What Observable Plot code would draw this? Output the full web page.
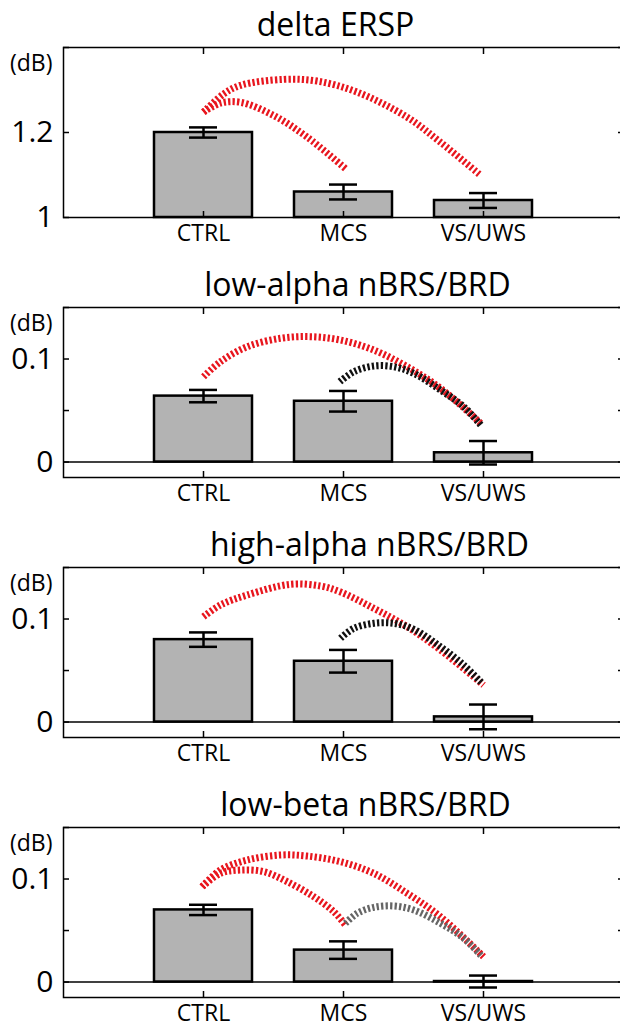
<!DOCTYPE html>
<html><head><meta charset="utf-8">
<script src="https://cdn.jsdelivr.net/npm/d3@7"></script>
<script src="https://cdn.jsdelivr.net/npm/@observablehq/plot@0.6"></script>
<style>
html,body{margin:0;padding:0;overflow:hidden;background:#fff;}
#chart svg{display:block;overflow:visible;}
</style></head><body><div id="chart"></div>
<script>
// ---------- data ----------
const titles = ["delta ERSP", "low-alpha nBRS/BRD", "high-alpha nBRS/BRD", "low-beta nBRS/BRD"];
const groups = ["CTRL", "MCS", "VS/UWS"];
const means = [
  [1.200, 1.060, 1.040],
  [0.064, 0.059, 0.009],
  [0.080, 0.059, 0.005],
  [0.070, 0.031, 0.0005]
];
const sems = [
  [0.012, 0.0175, 0.0175],
  [0.006, 0.010, 0.0114],
  [0.007, 0.011, 0.012],
  [0.005, 0.0085, 0.0058]
];
const baselines = [1, 0, 0, 0];
const yDomains = [[1, 1.4], [-0.015, 0.15], [-0.015, 0.15], [-0.015, 0.15]];
const yTicks = [[1, 1.2, 1.4], [0, 0.05, 0.1, 0.15], [0, 0.05, 0.1, 0.15], [0, 0.05, 0.1, 0.15]];
const yTickLabels = [["1", "1.2", ""], ["0", "", "0.1", ""], ["0", "", "0.1", ""], ["0", "", "0.1", ""]];
const unitLabel = "(dB)";

// significance arcs: [group position (1=CTRL,2=MCS,3=VS/UWS), value]
const arcDeltaCtrlVs = [[1.00,1.248],[1.145,1.291],[1.264,1.311],[1.574,1.325],[1.812,1.321],[2.098,1.295],[2.455,1.236],[2.693,1.177],[2.98,1.099]];
const arcDeltaCtrlMcs = [[1.00,1.248],[1.121,1.269],[1.264,1.271],[1.502,1.240],[1.741,1.189],[2.014,1.115]];
const arcLowAlphaCtrlVs = [[1.00,0.0828],[1.121,0.0974],[1.312,0.1119],[1.55,0.1201],[1.764,0.1217],[1.979,0.1184],[2.216,0.1087],[2.455,0.0925],[2.693,0.0716],[2.98,0.0376]];
const arcLowAlphaMcsVs = [[1.974,0.078],[2.074,0.0877],[2.216,0.0932],[2.359,0.0925],[2.502,0.0861],[2.693,0.0699],[2.859,0.0537],[2.98,0.0359]];
const arcHighAlphaCtrlVs = [[1.00,0.1022],[1.121,0.1136],[1.312,0.1233],[1.621,0.1337],[1.836,0.1320],[1.979,0.1262],[2.216,0.1104],[2.455,0.0925],[2.693,0.0699],[3.00,0.0359]];
const arcHighAlphaMcsVs = [[1.979,0.0813],[2.074,0.0910],[2.216,0.0958],[2.359,0.0958],[2.502,0.0900],[2.693,0.0731],[2.859,0.0553],[2.99,0.0376]];
const arcLowBetaCtrlVs = [[0.99,0.0925],[1.121,0.1087],[1.312,0.1184],[1.55,0.1233],[1.74,0.1223],[1.979,0.1168],[2.216,0.1055],[2.455,0.0861],[2.693,0.0634],[3.00,0.0246]];
const arcLowBetaCtrlMcs = [[0.99,0.0925],[1.121,0.1055],[1.264,0.1087],[1.431,0.1071],[1.598,0.0974],[1.788,0.0828],[1.931,0.0683],[2.014,0.0553]];
const arcLowBetaMcsVs = [[2.014,0.057],[2.098,0.0667],[2.216,0.0725],[2.359,0.0738],[2.502,0.0699],[2.693,0.057],[2.859,0.0424],[2.99,0.0246]];

const arcSets = [
  [{pts: arcDeltaCtrlVs, kind: "red"}, {pts: arcDeltaCtrlMcs, kind: "red"}],
  [{pts: arcLowAlphaCtrlVs, kind: "red"}, {pts: arcLowAlphaMcsVs, kind: "black"}],
  [{pts: arcHighAlphaCtrlVs, kind: "red"}, {pts: arcHighAlphaMcsVs, kind: "black"}],
  [{pts: arcLowBetaCtrlVs, kind: "red"}, {pts: arcLowBetaCtrlMcs, kind: "red"}, {pts: arcLowBetaMcsVs, kind: "gray"}]
];

// ---------- styles / layout ----------
const arcColors = {red: "#e8161e", black: "#111111", gray: "#666666"};
const titleDx = [-8, 14, 26, 22];
const FONT = "'Open Sans', 'Noto Sans', sans-serif";
const DASH = "2.3 2.2";

const chart = document.getElementById("chart");
for (let i = 0; i < 4; i++) {
  const rows = groups.map((g, j) => ({g, pos: j + 1, m: means[i][j], se: sems[i][j]}));
  const base = baselines[i];
  const marks = [];
  if (base > yDomains[i][0]) marks.push(Plot.ruleY([base], {stroke: "black", strokeWidth: 1.5}));
  marks.push(Plot.rectY(rows, {x1: d => d.pos - 0.35, x2: d => d.pos + 0.35, y1: () => base, y2: "m",
    fill: "#b3b3b3", stroke: "black", strokeWidth: 2.5}));
  marks.push(Plot.ruleX(rows, {x: "pos", y1: d => d.m - d.se, y2: d => d.m + d.se, stroke: "black", strokeWidth: 2.5}));
  marks.push(Plot.ruleY(rows, {y: d => d.m + d.se, x1: d => d.pos - 0.1, x2: d => d.pos + 0.1, stroke: "black", strokeWidth: 2.5}));
  marks.push(Plot.ruleY(rows, {y: d => d.m - d.se, x1: d => d.pos - 0.1, x2: d => d.pos + 0.1, stroke: "black", strokeWidth: 2.5}));
  for (const a of arcSets[i]) {
    marks.push(Plot.line(a.pts, {x: d => d[0], y: d => d[1], curve: "catmull-rom",
      stroke: arcColors[a.kind], strokeWidth: 7, strokeLinecap: "butt", strokeLinejoin: "miter",
      render(index, scales, values, dimensions, context, next) {
        const g = next(index, scales, values, dimensions, context);
        g.setAttribute("stroke-dasharray", DASH);
        g.querySelectorAll("path").forEach(p => {
          p.setAttribute("stroke-dasharray", DASH);
          p.style.strokeDasharray = DASH;
        });
        return g;
      }}));
  }
  marks.push(Plot.frame({stroke: "black", strokeWidth: 1.5}));
  marks.push(Plot.axisY({anchor: "left", ticks: yTicks[i], tickSize: -6, tickPadding: 16, strokeWidth: 1.5,
    tickFormat: v => yTickLabels[i][yTicks[i].indexOf(v)], fontSize: 30, label: null}));
  marks.push(Plot.axisY({anchor: "right", ticks: yTicks[i], tickSize: -6, strokeWidth: 1.5, tickFormat: () => "", label: null}));
  marks.push(Plot.axisX({anchor: "bottom", ticks: [1, 2, 3], tickSize: -6, tickPadding: 13, strokeWidth: 1.5,
    tickFormat: v => groups[v - 1], fontSize: 23, label: null}));
  marks.push(Plot.axisX({anchor: "top", ticks: [1, 2, 3], tickSize: -6, strokeWidth: 1.5, tickFormat: () => "", label: null}));
  marks.push(Plot.text([titles[i]], {text: d => d, frameAnchor: "top", dx: titleDx[i], dy: -12, lineAnchor: "bottom", fontSize: 32, fill: "black"}));
  marks.push(Plot.text([unitLabel], {text: d => d, frameAnchor: "top-left", textAnchor: "end", dx: -11, dy: 16, lineAnchor: "middle", fontSize: 23, fill: "black"}));

  const svg = Plot.plot({
    width: 620, height: 260,
    marginTop: 47, marginBottom: 43, marginLeft: 63, marginRight: -3,
    style: {fontFamily: FONT, color: "black", background: "white", overflow: "visible"},
    x: {type: "linear", domain: [0, 4], label: null},
    y: {domain: yDomains[i], label: null},
    marks
  });
  chart.appendChild(svg);
}
</script></body></html>
